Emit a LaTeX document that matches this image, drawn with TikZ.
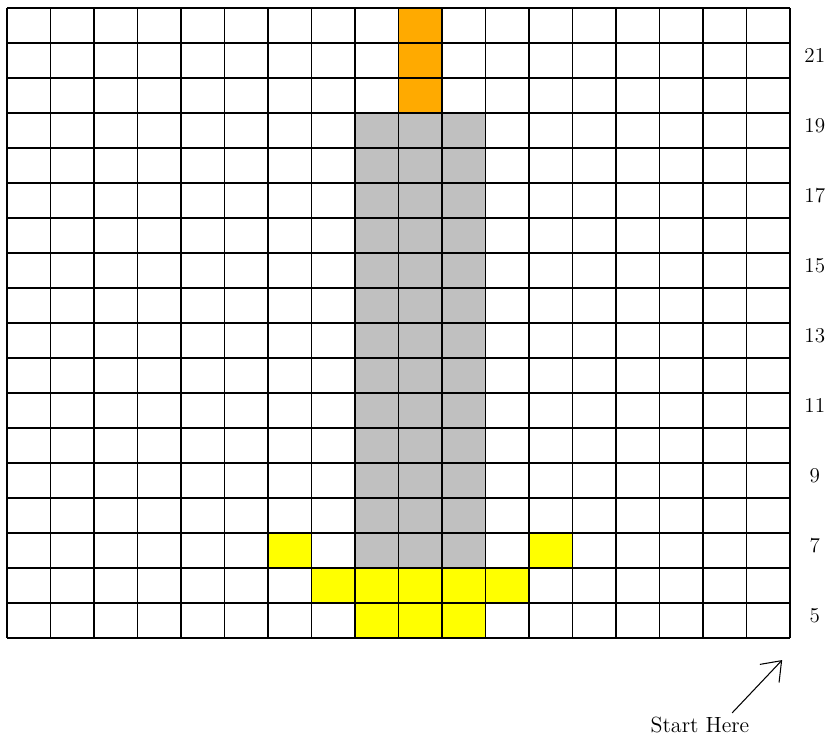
\documentclass[tikz,border=0pt]{standalone}
\usepackage{xcolor}
\definecolor{flameorange}{RGB}{255,170,0}
\definecolor{waxgray}{RGB}{192,192,192}
\definecolor{baseyellow}{RGB}{255,255,0}
\usetikzlibrary{arrows.meta,positioning}

\begin{document}
\begin{tikzpicture}[x=0.87cm, y=0.7cm,
    gridline/.style={line width=1pt, black},
    rowlbl/.style={font=\fontsize{12}{14}\selectfont, inner sep=0pt},
    startlbl/.style={font=\fontsize{12.5}{15}\selectfont, inner sep=0pt},
    pointer/.style={line width=0.6pt, -{Straight Barb[length=10pt,width=15pt]}}
  ]
    \useasboundingbox (-0.14cm,-2.0cm) rectangle (16.44cm,12.76cm);

    % Flame
    \foreach \r in {15,16,17}
      \fill[flameorange] (9,\r) rectangle ++(1,1);

    % Candle body
    \fill[waxgray] (8,2) rectangle (11,15);

    % Holder
    \foreach \c in {6,12}
      \fill[baseyellow] (\c,2) rectangle ++(1,1);
    \fill[baseyellow] (7,1) rectangle (12,2);
    \fill[baseyellow] (8,0) rectangle (11,1);

    % Grid
    \draw[gridline, xstep=1, ystep=1] (0,0) grid (18,18);

    % Row numbers
    \foreach \n in {5,7,...,21}
      \node[rowlbl] (row\n) at (18.57,\n-4.35) {\n};

    % Start marker
    \node[startlbl] (start) at (15.93,-2.48) {Start Here};
    \coordinate (arrtail) at (16.67,-2.14);
    \coordinate (arrtip)  at (17.82,-0.63);
    \draw[pointer] (arrtail) -- (arrtip);
  \end{tikzpicture}
\end{document}
